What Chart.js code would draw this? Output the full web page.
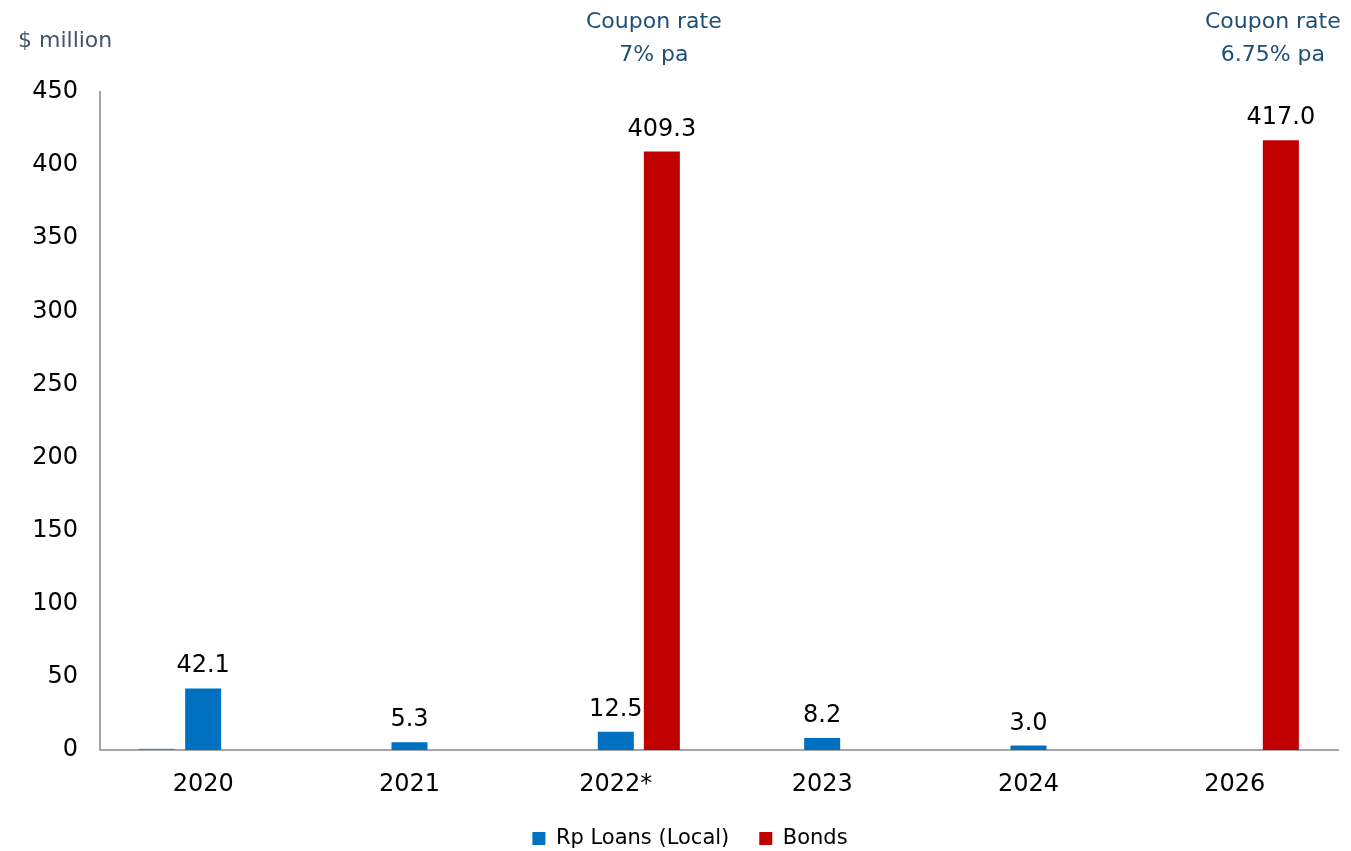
<!DOCTYPE html>
<html>
<head>
<meta charset="utf-8">
<title>Debt maturity profile</title>
<script src="https://cdn.jsdelivr.net/npm/chart.js@4.4.1/dist/chart.umd.min.js"></script>
<style>
  html, body { margin: 0; padding: 0; background: #fff; }
  #wrap { width: 1351px; height: 851px; }
</style>
</head>
<body>
<div id="wrap"><canvas id="myChart" width="1351" height="851"></canvas></div>
<script>
const years = ['2020', '2021', '2022*', '2023', '2024', '2026'];
const otherLoans = [0.8, null, null, null, null, null];
const rpLoans = [42.1, 5.3, 12.5, 8.2, 3.0, null];
const bonds = [null, null, 409.3, null, null, 417.0];
const couponNotes = [null, null, ['Coupon rate', '7% pa'], null, null, ['Coupon rate', '6.75% pa']];
const yTicks = [0, 50, 100, 150, 200, 250, 300, 350, 400, 450];

const FONT = "'DejaVu Sans', Verdana, sans-serif";
const LEGEND_HEIGHT = 53;
const LEGEND_SHIFT = 21;

// keep the wide gap between legend items without a tall legend box,
// and nudge the legend a bit to the right
const legendHeight = {
    id: 'legendHeight',
    beforeLayout(chart) {
        const legend = chart.legend;
        if (!legend || legend._fitPatched) return;
        const fit = legend.fit;
        legend.fit = function () {
            fit.call(this);
            this.height = LEGEND_HEIGHT;
        };
        legend._fitPatched = true;
    },
    afterLayout(chart) {
        const legend = chart.legend;
        if (!legend) return;
        legend.left += LEGEND_SHIFT;
        legend.right += LEGEND_SHIFT;
    }
};

// value labels over the bars, coupon notes over the bond bars, unit label
const barLabels = {
    id: 'barLabels',
    afterDatasetsDraw(chart) {
        const ctx = chart.ctx;
        ctx.save();
        ctx.textAlign = 'center';
        ctx.textBaseline = 'alphabetic';
        [1, 2].forEach((di) => {
            const meta = chart.getDatasetMeta(di);
            const data = chart.data.datasets[di].data;
            meta.data.forEach((bar, i) => {
                if (data[i] == null) return;
                ctx.fillStyle = '#000';
                ctx.font = '24px ' + FONT;
                ctx.fillText(data[i].toFixed(1), bar.x, bar.y - 16);
            });
        });
        const bondMeta = chart.getDatasetMeta(2);
        bondMeta.data.forEach((bar, i) => {
            const note = couponNotes[i];
            if (!note) return;
            ctx.fillStyle = '#1F4E79';
            ctx.font = '22px ' + FONT;
            ctx.fillText(note[0], bar.x - 8, 28);
            ctx.fillText(note[1], bar.x - 8, 61);
        });
        ctx.fillStyle = '#44546A';
        ctx.font = '22px ' + FONT;
        ctx.textAlign = 'left';
        ctx.fillText('$ million', 18, 47);
        ctx.restore();
    }
};

const ctx = document.getElementById('myChart').getContext('2d');
new Chart(ctx, {
    type: 'bar',
    data: {
        labels: years,
        datasets: [
            {
                label: 'Other',
                data: otherLoans,
                backgroundColor: '#4A8ED0',
                categoryPercentage: 0.669,
                barPercentage: 0.783
            },
            {
                label: 'Rp Loans (Local)',
                data: rpLoans,
                backgroundColor: '#0070C0',
                categoryPercentage: 0.669,
                barPercentage: 0.783
            },
            {
                label: 'Bonds',
                data: bonds,
                backgroundColor: '#C00000',
                categoryPercentage: 0.669,
                barPercentage: 0.783
            }
        ]
    },
    options: {
        responsive: false,
        animation: false,
        layout: { padding: { top: 92, right: 13, left: 0, bottom: 0 } },
        plugins: {
            tooltip: { enabled: false },
            legend: {
                position: 'bottom',
                labels: {
                    filter: (item) => item.datasetIndex !== 0,
                    boxWidth: 13,
                    boxHeight: 13,
                    color: '#000',
                    padding: 30,
                    font: { family: FONT, size: 21 }
                }
            }
        },
        scales: {
            x: {
                afterFit: (axis) => { axis.height = 48; },
                grid: { display: false, drawTicks: false },
                border: { color: '#A6A6A6', width: 2 },
                ticks: {
                    color: '#000',
                    padding: 20,
                    font: { family: FONT, size: 24 }
                }
            },
            y: {
                min: 0,
                max: 450,
                afterBuildTicks: (axis) => {
                    axis.ticks = yTicks.map((v) => ({ value: v }));
                },
                afterFit: (axis) => { axis.width = 100; },
                grid: { display: false, drawTicks: false },
                border: { color: '#A6A6A6', width: 2 },
                ticks: {
                    color: '#000',
                    padding: 22,
                    font: { family: FONT, size: 24 }
                }
            }
        }
    },
    plugins: [legendHeight, barLabels]
});
</script>
</body>
</html>
